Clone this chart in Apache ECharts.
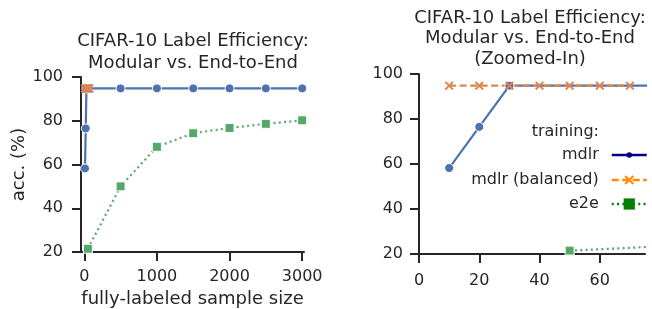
<!DOCTYPE html>
<html>
<head>
<meta charset="utf-8">
<script src="https://cdn.jsdelivr.net/npm/echarts@6/dist/echarts.min.js"></script>
<style>
  html, body { margin: 0; padding: 0; background: #fff; }
  #chart { width: 652px; height: 309px; }
</style>
</head>
<body>
<div id="chart"></div>
<script>
// mdlr (modular) accuracy per fully-labeled sample size
const mdlrX = [10, 20, 30, 500, 1000, 1500, 2000, 2500, 3000]
const mdlrY = [58.2, 76.5, 94.8, 94.8, 94.8, 94.8, 94.8, 94.8, 94.8]
// mdlr (balanced)
const balX = [10, 20, 30, 40, 50, 60, 70]
const balY = [94.8, 94.8, 94.8, 94.8, 94.8, 94.8, 94.8]
// e2e (end-to-end)
const e2eX = [50, 500, 1000, 1500, 2000, 2500, 3000]
const e2eY = [21.5, 50, 68.1, 74.3, 76.7, 78.6, 80.2]

const leftTicks = [0, 1000, 2000, 3000]
const rightTicks = [0, 20, 40, 60]

const ink = '#262626'
const font = 'DejaVu Sans'
const xMark = 'path://M1.5,0 L5,3.5 L8.5,0 L10,1.5 L6.5,5 L10,8.5 L8.5,10 L5,6.5 L1.5,10 L0,8.5 L3.5,5 L0,1.5 Z'

function zip(xs, ys) {
  return xs.map((x, i) => [x, ys[i]])
}

function makeX(idx, min, max, ticks, margin) {
  return {
    type: 'value', gridIndex: idx, min: min, max: max,
    splitLine: { show: false },
    axisLine: { onZero: false, lineStyle: { color: ink, width: 2 } },
    axisTick: { length: 9, lineStyle: { color: ink, width: 2 }, customValues: ticks },
    axisLabel: {
      color: ink, fontSize: 16, fontFamily: font, margin: margin, customValues: ticks,
      formatter: v => String(v)
    }
  }
}

function makeY(idx, margin) {
  return {
    type: 'value', gridIndex: idx, min: 20, max: 100, interval: 20,
    splitLine: { show: false },
    axisLine: { onZero: false, lineStyle: { color: ink, width: 2 } },
    axisTick: { length: 9, lineStyle: { color: ink, width: 2 } },
    axisLabel: { color: ink, fontSize: 16, fontFamily: font, margin: margin }
  }
}

function seriesFor(idx) {
  return [{
    name: 'mdlr', type: 'line', xAxisIndex: idx, yAxisIndex: idx,
    data: zip(mdlrX, mdlrY),
    symbol: 'circle', symbolSize: 9,
    itemStyle: { color: '#4c72b0', borderColor: '#fff', borderWidth: 1 },
    lineStyle: { color: '#4c72b0', width: 2.2 }
  }, {
    name: 'mdlr (balanced)', type: 'line', xAxisIndex: idx, yAxisIndex: idx,
    data: zip(balX, balY),
    symbol: xMark, symbolSize: 9,
    itemStyle: { color: '#dd8452' },
    lineStyle: { color: '#dd8452', width: 2.2, type: [7, 3.5] }
  }, {
    name: 'e2e', type: 'line', xAxisIndex: idx, yAxisIndex: idx,
    data: zip(e2eX, e2eY),
    symbol: 'rect', symbolSize: 9,
    itemStyle: { color: '#55a868', borderColor: '#fff', borderWidth: 1 },
    lineStyle: { color: '#55a868', width: 2.2, type: [2, 3.3] }
  }]
}

function legendRow(name, color, top, h) {
  return {
    top: top, right: 4, orient: 'vertical', align: 'right',
    itemWidth: 35, itemHeight: h, padding: 0,
    textStyle: { color: ink, fontSize: 16, fontFamily: font, padding: [0, 8, 0, 0] },
    data: [{ name: name, itemStyle: { color: color, borderWidth: 0 }, lineStyle: { color: color, width: 2.5 } }],
    selectedMode: false
  }
}

const chart = echarts.init(document.getElementById('chart'))
chart.setOption({
  animation: false,
  textStyle: { fontFamily: font },
  title: [{
    text: 'CIFAR-10 Label Efficiency:\nModular vs. End-to-End',
    left: 193, top: 30, textAlign: 'center', padding: 0,
    textStyle: { color: ink, fontSize: 18, fontWeight: 'normal', fontFamily: font, lineHeight: 22 }
  }, {
    text: 'CIFAR-10 Label Efficiency:\nModular vs. End-to-End\n(Zoomed-In)',
    left: 530, top: 8, textAlign: 'center', padding: 0,
    textStyle: { color: ink, fontSize: 18, fontWeight: 'normal', fontFamily: font, lineHeight: 20.5 }
  }, {
    text: 'training:',
    left: 599, top: 124, textAlign: 'right', padding: 0,
    textStyle: { color: ink, fontSize: 16, fontWeight: 'normal', fontFamily: font }
  }],
  legend: [
    legendRow('mdlr', '#000080', 147, 7),
    legendRow('mdlr (balanced)', '#ff8c00', 172, 12),
    legendRow('e2e', '#008000', 196, 14)
  ],
  grid: [
    { left: 81, top: 77, right: 348, bottom: 57, outerBoundsMode: 'none' },
    { left: 419, top: 74, right: 7, bottom: 55, outerBoundsMode: 'none' }
  ],
  xAxis: [
    Object.assign(makeX(0, -45, 3025, leftTicks, 17), {
      name: 'fully-labeled sample size', nameLocation: 'middle', nameGap: 34,
      nameTextStyle: { color: ink, fontSize: 18, fontFamily: font }
    }),
    makeX(1, 0, 75, rightTicks, 19)
  ],
  yAxis: [
    Object.assign(makeY(0, 18), {
      name: 'acc. (%)', nameLocation: 'middle', nameGap: 53,
      nameTextStyle: { color: ink, fontSize: 18, fontFamily: font }
    }),
    makeY(1, 16)
  ],
  series: seriesFor(0).concat(seriesFor(1))
})
</script>
</body>
</html>
